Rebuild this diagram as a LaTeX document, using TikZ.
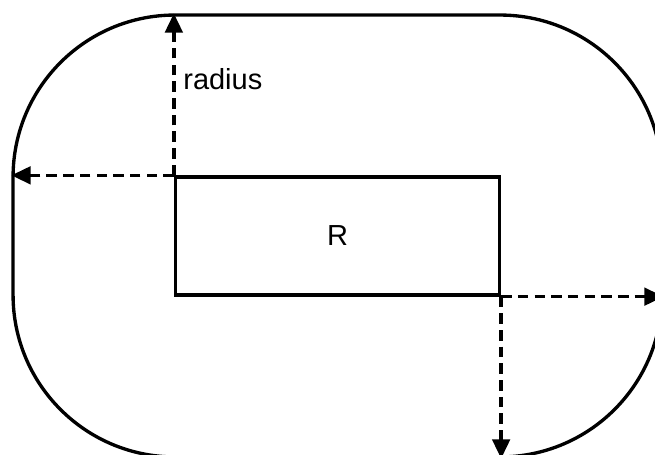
\documentclass[tikz,border=0pt]{standalone}
\usepackage{fontspec}
\setmainfont{Liberation Sans}
\usetikzlibrary{arrows.meta,positioning}

\begin{document}
\begin{tikzpicture}[x=0.02cm, y=-0.02cm,
  outline/.style={draw, line width=1.9pt, rounded corners=3.24cm, minimum width=12.98cm, minimum height=8.84cm},
  region/.style={draw, line width=1.9pt, minimum width=6.48cm, minimum height=2.36cm, font=\fontsize{16.5}{19}\selectfont},
  radarrow/.style={line width=1.9pt, dash pattern=on 6pt off 3.5pt, -{Triangle[length=11pt,width=10pt]}},
  lbl/.style={font=\fontsize{16.5}{19}\selectfont, inner sep=0pt}
]
\clip (0,0) rectangle (655,455);
\node[outline] (outer) at (337.5,236) {};
\node[region] (rect) at (337.5,236) {R};

\draw[radarrow] (rect.north west) -- (rect.north west |- outer.north);
\draw[radarrow] (rect.north west) -- (rect.north west -| outer.west);
\draw[radarrow] (rect.south east) -- (rect.south east -| outer.east);
\draw[radarrow] (rect.south east) -- (rect.south east |- outer.south);
\node[lbl, anchor=base west] (radlbl) at (183,90) {radius};
\end{tikzpicture}
\end{document}
